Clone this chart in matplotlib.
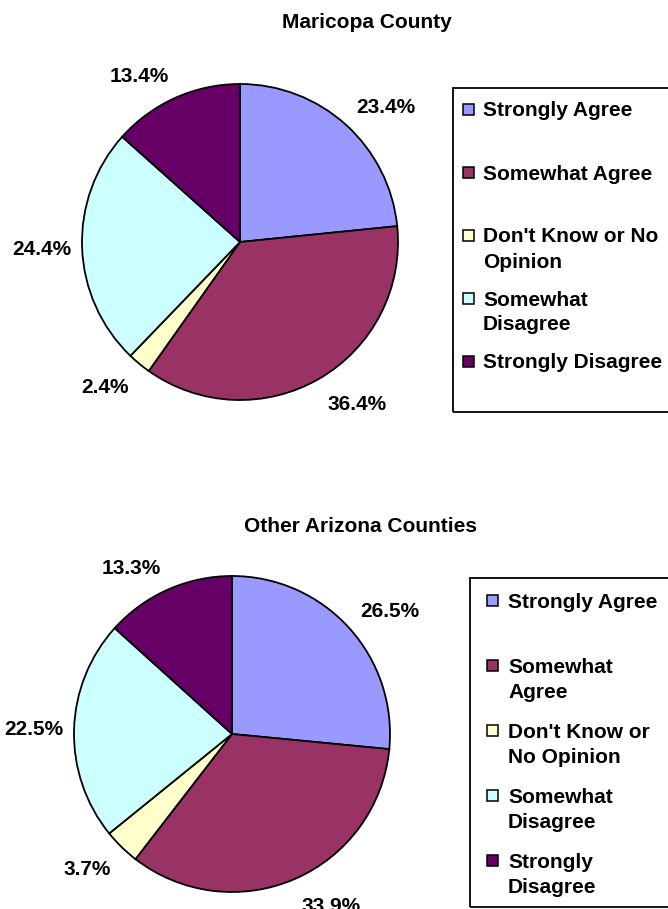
import numpy as np
import matplotlib
matplotlib.use('Agg')
import matplotlib.pyplot as plt
from matplotlib.patches import Rectangle
from matplotlib.transforms import IdentityTransform

# figure size in pixels (dpi 100)
W, H = 668, 909

categories = ['Strongly Agree', 'Somewhat Agree', "Don't Know or No Opinion",
              'Somewhat Disagree', 'Strongly Disagree']
colors = ['#9999FF', '#993366', '#FFFFCC', '#CCFFFF', '#660066']

maricopa_pct = [23.4, 36.4, 2.4, 24.4, 13.4]
other_pct = [26.5, 33.9, 3.7, 22.5, 13.3]

# legend labels wrap differently in the two boxes
maricopa_legend = ['Strongly Agree', 'Somewhat Agree', "Don't Know or No\nOpinion",
                   'Somewhat\nDisagree', 'Strongly Disagree']
other_legend = ['Strongly Agree', 'Somewhat\nAgree', "Don't Know or\nNo Opinion",
                'Somewhat\nDisagree', 'Strongly\nDisagree']

plt.rcParams['font.family'] = ['Liberation Sans', 'DejaVu Sans']
plt.rcParams['font.weight'] = 'bold'
FS = 15

fig = plt.figure(figsize=(W / 100, H / 100), dpi=100)


def fx(px):
    return px / W


def fy(py):
    return 1 - py / H


def draw_pie(values, cx, cy, r):
    half = 1.6 * r
    ax = fig.add_axes([fx(cx - half), fy(cy + half), 2 * half / W, 2 * half / H])
    wedges, _ = ax.pie(values, colors=colors, startangle=90, counterclock=False,
                       radius=1, wedgeprops=dict(edgecolor='black', linewidth=1.3))
    ax.set_xlim(-1.6, 1.6)
    ax.set_ylim(-1.6, 1.6)
    ax.set_aspect('equal')
    ax.axis('off')
    return ax, wedges


def add_pie_labels(ax, wedges, values):
    # label box corner sits just outside the rim, box pushed outward
    renderer = fig.canvas.get_renderer()
    for w, v in zip(wedges, values):
        ang = np.deg2rad((w.theta1 + w.theta2) / 2)
        c, s = np.cos(ang), np.sin(ang)
        d = 1.107 - 0.04 * c ** 4
        px, py = ax.transData.transform((d * c, d * s))
        t = fig.text(px, py, f'{v:.1f}%', fontsize=FS, ha='center', va='center',
                     transform=IdentityTransform())
        bb = t.get_window_extent(renderer)
        ox = bb.width / 2 * np.clip(c * 3, -1, 1)
        k = 0.32 if s > 0 else 0.62
        oy = bb.height * k * np.clip(s * 3, -1, 1)
        t.set_position((px + ox, py + oy))


def draw_legend(labels, box, x_sq, x_txt, y0, step):
    left, top, bottom = box
    fig.add_artist(Rectangle((fx(left), fy(bottom)), (W + 20 - left) / W, (bottom - top) / H,
                             transform=fig.transFigure, fill=False,
                             edgecolor='black', linewidth=1.3))
    for i, (lab, col) in enumerate(zip(labels, colors)):
        y = y0 + i * step
        fig.add_artist(Rectangle((fx(x_sq), fy(y + 5.5)), 11 / W, 11 / H,
                                 transform=fig.transFigure, facecolor=col,
                                 edgecolor='black', linewidth=1.1))
        for j, line in enumerate(lab.split('\n')):
            fig.text(fx(x_txt), fy(y + 7.5 + j * 25), line, fontsize=FS,
                     ha='left', va='baseline')


# top: Maricopa County
fig.text(fx(367), fy(28), 'Maricopa County', fontsize=FS, ha='center', va='baseline')
ax1, w1 = draw_pie(maricopa_pct, 240, 242, 158)
draw_legend(maricopa_legend, (453, 88, 412), 463, 483, 109, 63)

# bottom: other counties
fig.text(fx(360), fy(532), 'Other Arizona Counties', fontsize=FS, ha='center', va='baseline')
ax2, w2 = draw_pie(other_pct, 232, 734, 158)
draw_legend(other_legend, (470, 578, 907), 487, 508, 600, 65.2)

fig.canvas.draw()
add_pie_labels(ax1, w1, maricopa_pct)
add_pie_labels(ax2, w2, other_pct)

fig.savefig('out.png', dpi=100)
print('saved out.png')
